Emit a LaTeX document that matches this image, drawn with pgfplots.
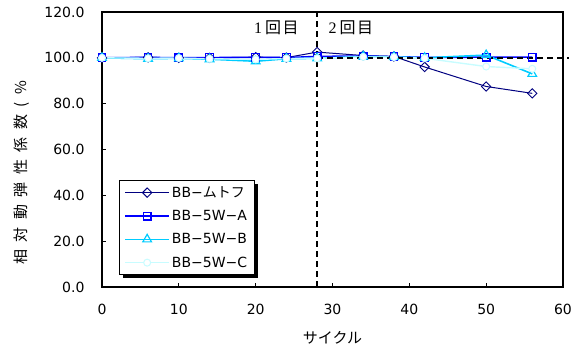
\documentclass[border=0pt]{standalone}
\usepackage{fontspec}
\setmainfont{DejaVu Sans}
\newfontfamily\cjk{Noto Sans CJK JP}
\newfontfamily\cjkwide[LetterSpace=50]{Noto Sans CJK JP}
\newfontfamily\serifdigits{Liberation Serif}
\usepackage{pgfplots}
\pgfplotsset{compat=1.18}

\pgfdeclarelayer{background}
\pgfsetlayers{background,main}

\definecolor{cA}{RGB}{0,0,128}
\definecolor{cB}{RGB}{0,0,255}
\definecolor{cC}{RGB}{0,204,255}
\definecolor{cD}{RGB}{200,252,255}

\pgfplotstableread{
x    A      B      C      D
0    100.0  100.0  100.0  100.0
6    100.2  100.2  99.6   99.8
10   100.0  100.0  99.8   99.9
14   100.0  100.1  99.4   99.6
20   100.3  100.2  98.5   99.3
24   100.1  100.1  99.6   99.7
28   102.5  100.6  99.8   99.8
34   101.0  100.8  100.6  100.4
38   100.6  100.5  100.4  100.3
42   96.0   100.2  100.0  99.8
50   87.5   100.3  101.2  96.2
56   84.5   100.3  93.0   95.2
}\datatable

\newcommand{\roundlabel}[1]{{\serifdigits #1}\kern3pt{\cjk 回}\kern1.5pt{\cjk 目}}

\begin{document}
\begin{tikzpicture}
\begin{axis}[
  at={(0,0)}, anchor=south west,
  scale only axis, width=461pt, height=275pt,
  xmin=0, xmax=60, ymin=0, ymax=120,
  xtick={0,10,...,60}, ytick={0,20,...,120},
  axis line style={line width=1.6pt},
  tick style={black, line width=0.8pt},
  tick align=inside, major tick length=4pt,
  xtick pos=bottom, ytick pos=left,
  tick label style={font=\fontsize{14}{16}\selectfont},
  /pgf/number format/assume math mode=true,
  yticklabel={\pgfmathprintnumber[fixed,fixed zerofill,precision=1]{\tick}},
  xticklabel style={yshift=-14pt},
  yticklabel style={xshift=-14pt},
  xlabel={\cjk サイクル},
  ylabel={\cjkwide 相対動弾性係数(\%},
  xlabel style={font=\fontsize{15}{17}\selectfont,
    at={(axis description cs:0.5,0)}, anchor=center, yshift=-51pt},
  ylabel style={font=\fontsize{15}{17}\selectfont,
    at={(axis description cs:-0.1735,0.415)}, anchor=center},
  clip=false,
  legend cell align=left,
  legend style={name=leg, at={(0.037,0.044)}, anchor=south west,
    draw=black, line width=0.6pt, fill=white,
    font=\fontsize{14}{16}\selectfont,
    inner xsep=5pt, inner ysep=4pt,
    row sep=7.5pt},
  legend image code/.code={%
    \draw[mark repeat=2,mark phase=2] plot coordinates {(0pt,0pt) (22pt,0pt) (44pt,0pt)};},
]
\addplot[cA, line width=1pt, mark=square, mark size=3.3pt,
  mark options={solid, fill=white, rotate=45, line width=0.9pt}]
  table[x=x, y=A] {\datatable};
\addlegendentry{BB−{\cjk ムトフ}}
\addplot[cB, line width=1.6pt, mark=square, mark size=3.8pt,
  mark options={solid, fill=white, line width=1.2pt}]
  table[x=x, y=B] {\datatable};
\addlegendentry{BB−5W−A}
\addplot[cC, line width=1.6pt, mark=triangle, mark size=5pt,
  mark options={solid, fill=white, line width=1.2pt}]
  table[x=x, y=C] {\datatable};
\addlegendentry{BB−5W−B}
\addplot[cD, line width=1.4pt, mark=*, mark size=3.5pt,
  mark options={solid, fill=white, draw=cD, line width=1pt}]
  table[x=x, y=D] {\datatable};
\addlegendentry{BB−5W−C}

% cycle boundary between the first and second test series
\draw[black, line width=1.4pt, dash pattern=on 6pt off 4pt]
  (axis cs:28,0) -- (axis cs:28,120);
\draw[black, line width=1.4pt, dash pattern=on 6pt off 4pt]
  (axis cs:28,100) -- (axis cs:60.8,100);
\node[font=\fontsize{16}{18}\selectfont] at (axis cs:22.7,113.3) {\roundlabel{1}};
\node[font=\fontsize{16}{18}\selectfont] at (axis cs:32.4,113.3) {\roundlabel{2}};
\end{axis}
% solid drop shadow behind the legend box
\begin{pgfonlayer}{background}
\fill[black] ([shift={(3.5pt,-3.5pt)}]leg.south west) rectangle ([shift={(3.5pt,-3.5pt)}]leg.north east);
\end{pgfonlayer}
\pgfresetboundingbox
\path (-102pt,-60pt) rectangle (479pt,287pt);
\end{tikzpicture}
\end{document}
